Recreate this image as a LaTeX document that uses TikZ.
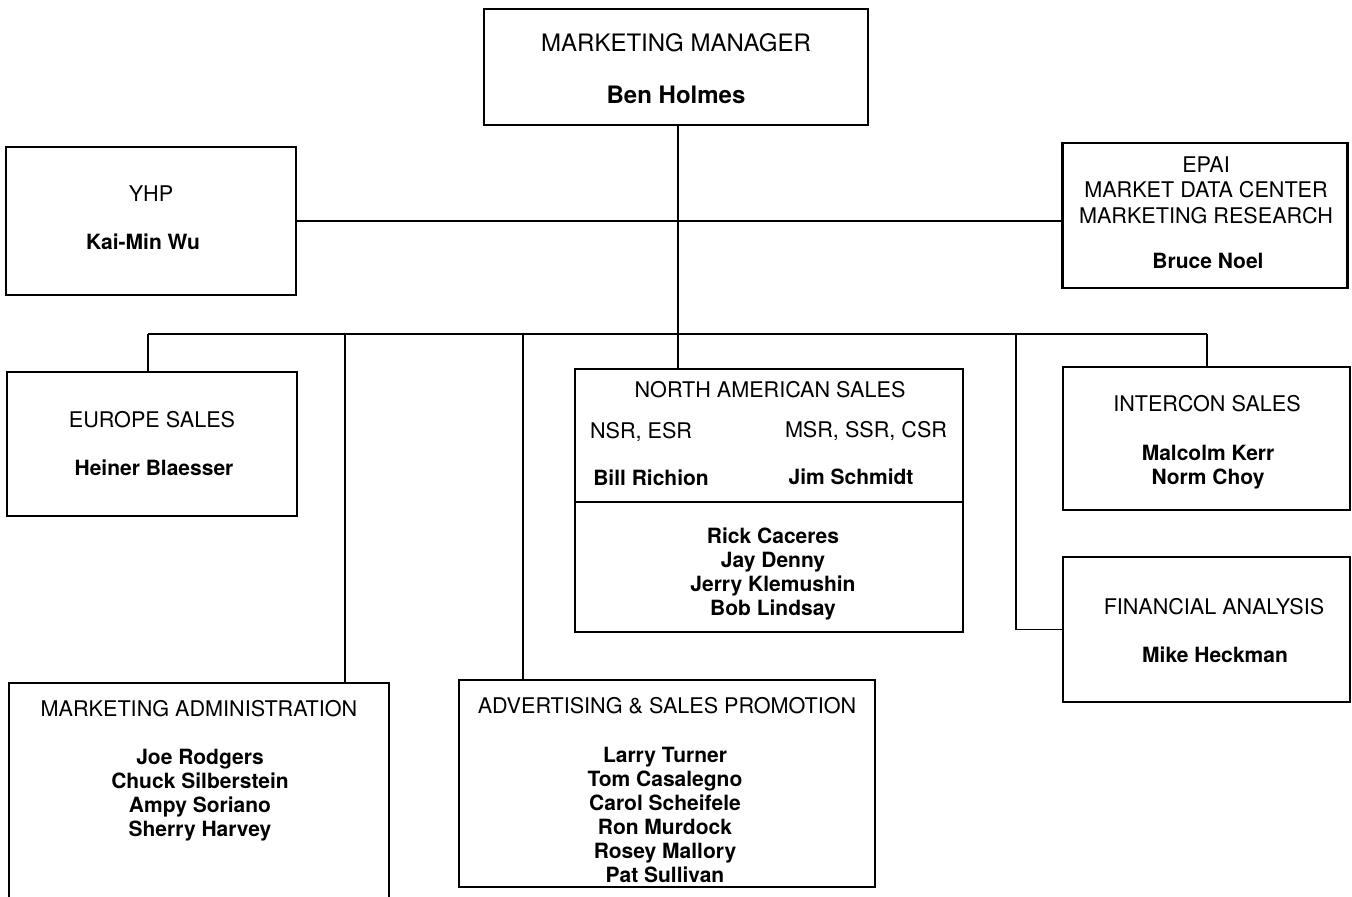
\documentclass[tikz,border=0pt]{standalone}
\usepackage{fontspec}
\setmainfont{TeX Gyre Heros}
\begin{document}
\begin{tikzpicture}[x=0.5pt,y=-0.5pt,
  box/.style={draw, line width=1.2pt, rectangle, inner sep=0pt},
  ttl/.style={font=\fontsize{10.8}{12.8}\selectfont, align=center, inner sep=0pt, yshift=-1.1pt},
  bigttl/.style={font=\fontsize{12}{14}\selectfont, inner sep=0pt, yshift=-1.1pt},
  nm/.style={font=\fontsize{10.5}{12}\selectfont\bfseries, align=center, inner sep=0pt, yshift=-1.1pt},
  bignm/.style={font=\fontsize{12}{14}\selectfont\bfseries, inner sep=0pt, yshift=-1.1pt},
  conn/.style={line width=0.8pt}]
\useasboundingbox (0,0) rectangle (1352,897);
\clip (0,0) rectangle (1352,897);
% boxes
\node[box, minimum width=384pt*0.5, minimum height=116pt*0.5] (mgr) at (676,67) {};
\node[box, minimum width=290pt*0.5, minimum height=148pt*0.5] (yhp) at (151,221) {};
\node[box, minimum width=285pt*0.5, minimum height=145pt*0.5] (epai) at (1205,215.5) {};
\node[box, minimum width=290pt*0.5, minimum height=144pt*0.5] (europe) at (152,444) {};
\node[box, minimum width=388pt*0.5, minimum height=263pt*0.5] (nas) at (769,500.5) {};
\node[box, minimum width=287pt*0.5, minimum height=143pt*0.5] (intercon) at (1206.5,438.5) {};
\node[box, minimum width=287pt*0.5, minimum height=145pt*0.5] (fa) at (1206.5,629.5) {};
\node[box, minimum width=380pt*0.5, minimum height=240pt*0.5] (admin) at (199,803) {};
\node[box, minimum width=416pt*0.5, minimum height=207pt*0.5] (adv) at (667,783.5) {};
% NAS divider
\coordinate (div) at (0,502);
\draw[line width=1.2pt] (nas.west |- div) -- (nas.east |- div);
% texts
\node[bigttl, anchor=mid] (t-mgr) at (676,44) {MARKETING MANAGER};
\node[bignm, anchor=mid] (n-mgr) at (676,96) {Ben Holmes};
\node[ttl, anchor=mid] (t-yhp) at (151,194) {YHP};
\node[nm, anchor=mid] (n-yhp) at (143,242) {Kai-Min Wu};
\node[ttl, anchor=center] (t-epai) at (1206,188) {EPAI\\MARKET DATA CENTER\\MARKETING RESEARCH};
\node[nm, anchor=mid] (n-epai) at (1208,261) {Bruce Noel};
\node[ttl, anchor=mid] (t-eur) at (152,420) {EUROPE SALES};
\node[nm, anchor=mid] (n-eur) at (154,468) {Heiner Blaesser};
\node[ttl, anchor=mid] (t-nas) at (770,390) {NORTH AMERICAN SALES};
\node[ttl, anchor=mid] (t-nsr) at (641,431) {NSR, ESR};
\node[ttl, anchor=mid] (t-msr) at (866,430) {MSR, SSR, CSR};
\node[nm, anchor=mid] (n-bill) at (651,478) {Bill Richion};
\node[nm, anchor=mid] (n-jim) at (851,477) {Jim Schmidt};
\node[nm] (n-nas) at (773,572) {Rick Caceres\\Jay Denny\\Jerry Klemushin\\Bob Lindsay};
\node[ttl, anchor=mid] (t-int) at (1207,404) {INTERCON SALES};
\node[nm] (n-int) at (1208,465) {Malcolm Kerr\\Norm Choy};
\node[ttl, anchor=mid] (t-fa) at (1214,607) {FINANCIAL ANALYSIS};
\node[nm, anchor=mid] (n-fa) at (1215,655) {Mike Heckman};
\node[ttl, anchor=mid] (t-adm) at (199,709) {MARKETING ADMINISTRATION};
\node[nm] (n-adm) at (200,793) {Joe Rodgers\\Chuck Silberstein\\Ampy Soriano\\Sherry Harvey};
\node[ttl, anchor=mid] (t-adv) at (667,706) {ADVERTISING \& SALES PROMOTION};
\node[nm] (n-adv) at (665,813) {Larry Turner\\Tom Casalegno\\Carol Scheifele\\Ron Murdock\\Rosey Mallory\\Pat Sullivan};
% connectors
\coordinate (trunk) at (678,334);
\coordinate (b-eur) at (148,334);
\coordinate (b-adm) at (345,334);
\coordinate (b-adv) at (523,334);
\coordinate (b-fa) at (1016,334);
\coordinate (b-int) at (1207,334);
\draw[conn] (trunk |- mgr.south) -- (trunk |- nas.north);
\draw[conn] (yhp.east) -- (yhp.east -| epai.west);
\draw[conn] (b-eur) -- (b-int);
\draw[conn] (b-eur) -- (b-eur |- europe.north);
\draw[conn] (b-adm) -- (b-adm |- admin.north);
\draw[conn] (b-adv) -- (b-adv |- adv.north);
\draw[conn] (b-fa) -- (b-fa |- fa.west) -- (fa.west);
\draw[conn] (b-int) -- (b-int |- intercon.north);
\end{tikzpicture}
\end{document}
